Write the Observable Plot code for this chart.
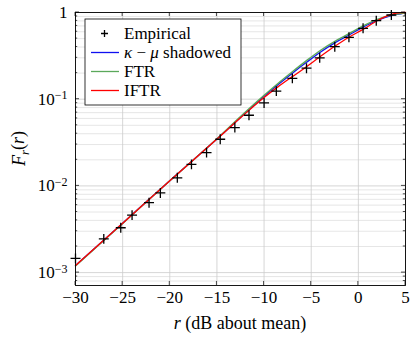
<!DOCTYPE html>
<html><head><meta charset="utf-8">
<script src="https://cdn.jsdelivr.net/npm/d3@7"></script>
<script src="https://cdn.jsdelivr.net/npm/@observablehq/plot@0.6"></script>
<style>body{margin:0;background:#fff} svg text{font-family:"Liberation Serif","DejaVu Serif","Times New Roman",Times,serif !important;}</style>
</head><body><div id="chart"></div>
<script>
// ---- data ----
const xTicks = [-30, -25, -20, -15, -10, -5, 0, 5];
const yTicks = [0.001, 0.01, 0.1, 1];
const yTickExp = ["−3", "−2", "−1", ""];

const xEmp = [-30, -27, -25.2, -24, -22.2, -21, -19.2, -17.7, -16.1, -14.65, -13.1, -11.6, -10.0, -8.7, -7.0, -5.5, -4.1, -2.5, -1.0, 0.5, 1.9, 3.5];
const yEmp = [0.00146, 0.00245, 0.00329, 0.0046, 0.0064, 0.0083, 0.0124, 0.0177, 0.0242, 0.0345, 0.0471, 0.0653, 0.0906, 0.124, 0.174, 0.228, 0.300, 0.403, 0.517, 0.657, 0.804, 0.936];

const xCurve = [-30, -25, -20, -15, -12.5, -10, -8.5, -7, -5.5, -4, -2.5, -1, 0.5, 2, 3.5, 4.5, 5];
const yKappaMu = [0.001205, 0.003715, 0.01148, 0.0347, 0.06166, 0.1084, 0.1479, 0.1995, 0.2661, 0.3508, 0.4467, 0.5495, 0.6792, 0.8128, 0.9226, 0.9661, 0.9817];
const yFTR = [0.001195, 0.00369, 0.01145, 0.0349, 0.0631, 0.1109, 0.1531, 0.2075, 0.2786, 0.3673, 0.4656, 0.5689, 0.6998, 0.8318, 0.9333, 0.9727, 0.9863];
const yIFTR = [0.001205, 0.003715, 0.01148, 0.03467, 0.06095, 0.1047, 0.1396, 0.1820, 0.2371, 0.3126, 0.4074, 0.5188, 0.6383, 0.8035, 0.9506, 0.9954, 1.0];

const seriesNames = ["Empirical", "κ − μ shadowed", "FTR", "IFTR"];
const seriesColors = ["black", "#1010f0", "#5aa85a", "#ff0000"];

// ---- build ----
const emp = xEmp.map((x, i) => ({x, y: yEmp[i]}));
const mk = ys => xCurve.map((x, i) => ({x, y: ys[i]}));
const yMinor = [];
for (const d of [0.0001, 0.001, 0.01, 0.1]) for (let k = 2; k <= 9; k++) { const v = d * k; if (v > 7.1e-4 && v < 1) yMinor.push(v); }

const font = "'Liberation Serif', 'DejaVu Serif', serif";
const fs = "17px";
const plot = Plot.plot({
  width: 416, height: 338,
  marginLeft: 75, marginRight: 11, marginTop: 12, marginBottom: 53,
  x: {domain: [-30, 5]},
  y: {type: "log", domain: [7.1e-4, 1]},
  style: {fontFamily: font, fontSize: fs, color: "black", background: "white"},
  marks: [
    Plot.ruleY(yMinor, {stroke: "#e0e0e0", strokeWidth: 0.8}),
    Plot.ruleY(yTicks, {stroke: "#cccccc", strokeWidth: 0.8}),
    Plot.ruleX(xTicks, {stroke: "#cccccc", strokeWidth: 0.8}),
    Plot.axisX({ticks: xTicks, tickSize: 0, tickPadding: 5, tickFormat: d => d < 0 ? "−" + (-d) : String(d), label: null}),
    Plot.axisY({ticks: yTicks, tickSize: 0, tickPadding: 8, tickFormat: d => String(d), label: null}),
    Plot.line(mk(yKappaMu), {x: "x", y: "y", stroke: seriesColors[1], strokeWidth: 1.3, curve: "monotone-x"}),
    Plot.line(mk(yFTR), {x: "x", y: "y", stroke: seriesColors[2], strokeWidth: 1.4, curve: "monotone-x"}),
    Plot.line(mk(yIFTR), {x: "x", y: "y", stroke: seriesColors[3], strokeWidth: 1.3, curve: "monotone-x"}),
    Plot.dot(emp, {x: "x", y: "y", symbol: "plus", r: 3.3, stroke: "black", strokeWidth: 1.3, fill: "none"}),
    Plot.frame({stroke: "black", strokeWidth: 0.9})
  ]
});
document.getElementById("chart").appendChild(plot);

const svg = d3.select(plot);
const sx = plot.scale("x"), sy = plot.scale("y");
const [x0, x1] = sx.range;
const [yb, yt] = sy.range;

// superscript y tick labels
svg.selectAll('g[aria-label="y-axis tick label"] text').each(function(d, i) {
  const t = d3.select(this);
  const exp = yTickExp[i];
  if (exp) {
    t.text(null);
    t.append("tspan").text("10");
    t.append("tspan").attr("dy", "-0.45em").attr("font-size", "12px").text(exp);
  }
});

// inward ticks
const tg = svg.append("g").attr("stroke", "black").attr("stroke-width", 0.7);
for (const v of xTicks) {
  const px = sx.apply(v);
  tg.append("line").attr("x1", px).attr("x2", px).attr("y1", yb).attr("y2", yb - 4);
  tg.append("line").attr("x1", px).attr("x2", px).attr("y1", yt).attr("y2", yt + 4);
}
for (const v of yTicks) {
  const py = sy.apply(v);
  tg.append("line").attr("x1", x0).attr("x2", x0 + 4).attr("y1", py).attr("y2", py);
  tg.append("line").attr("x1", x1).attr("x2", x1 - 4).attr("y1", py).attr("y2", py);
}
for (const v of yMinor) {
  const py = sy.apply(v);
  tg.append("line").attr("x1", x0).attr("x2", x0 + 2.2).attr("y1", py).attr("y2", py);
  tg.append("line").attr("x1", x1).attr("x2", x1 - 2.2).attr("y1", py).attr("y2", py);
}

// axis labels
const xl = svg.append("text").attr("x", (x0 + x1) / 2).attr("y", 329).attr("text-anchor", "middle")
  .attr("font-size", "18px").attr("fill", "black");
xl.append("tspan").attr("font-style", "italic").text("r");
xl.append("tspan").text(" (dB about mean)");

const yl = svg.append("text").attr("transform", `translate(25,${(yb + yt) / 2}) rotate(-90)`).attr("text-anchor", "middle")
  .attr("font-size", "18px").attr("fill", "black");
yl.append("tspan").attr("font-style", "italic").text("F");
yl.append("tspan").attr("font-style", "italic").attr("font-size", "13px").attr("dy", "0.3em").text("r");
yl.append("tspan").attr("dy", "-0.3em").text("(");
yl.append("tspan").attr("font-style", "italic").text("r");
yl.append("tspan").text(")");

// legend
const lg = svg.append("g");
lg.append("rect").attr("x", 85).attr("y", 19).attr("width", 156).attr("height", 86)
  .attr("fill", "white").attr("stroke", "black").attr("stroke-width", 0.8);
const rows = [33.5, 52.5, 71.5, 90.5];
seriesNames.forEach((name, i) => {
  const cy = rows[i];
  if (i === 0) {
    lg.append("path").attr("d", `M101,${cy}h7M104.5,${cy - 3.5}v7`).attr("stroke", "black").attr("stroke-width", 1.3);
  } else {
    lg.append("line").attr("x1", 91).attr("x2", 119).attr("y1", cy).attr("y2", cy)
      .attr("stroke", seriesColors[i]).attr("stroke-width", 1.3);
  }
  const t = lg.append("text").attr("x", 124).attr("y", cy + 5).attr("text-anchor", "start")
    .attr("font-size", "17px").attr("fill", "black");
  if (i === 1) {
    t.append("tspan").attr("font-style", "italic").text("κ");
    t.append("tspan").text(" − ");
    t.append("tspan").attr("font-style", "italic").text("μ");
    t.append("tspan").text(" shadowed");
  } else {
    t.text(name);
  }
});
</script>
</body></html>
